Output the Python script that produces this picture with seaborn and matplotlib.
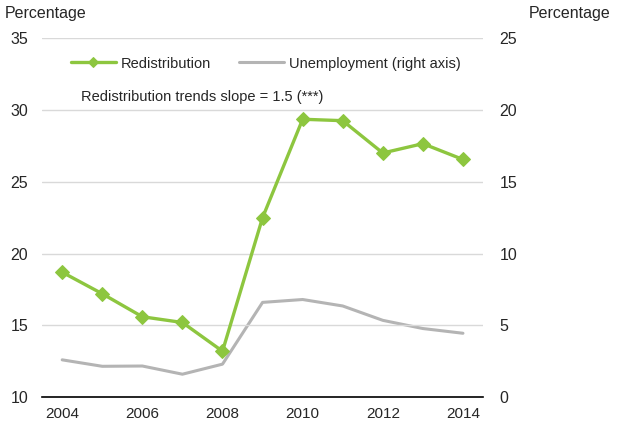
import numpy as np
import pandas as pd
import matplotlib
matplotlib.use("Agg")
import matplotlib.pyplot as plt
import seaborn as sns

years = [2004, 2005, 2006, 2007, 2008, 2009, 2010, 2011, 2012, 2013, 2014]
redistribution = [18.7, 17.2, 15.6, 15.2, 13.2, 22.5, 29.35, 29.25, 27.0, 27.65, 26.55]
unemployment = [2.6, 2.15, 2.17, 1.6, 2.3, 6.6, 6.8, 6.35, 5.35, 4.78, 4.45]
year_labels = ["2004", "", "2006", "", "2008", "", "2010", "", "2012", "", "2014"]

GREEN = "#8DC63F"
GREY = "#B4B4B4"

sns.set_style("white")
plt.rcParams['font.family'] = ['Liberation Sans Narrow', 'Liberation Sans', 'DejaVu Sans']
plt.rcParams['font.size'] = 11

df = pd.DataFrame({'pos': np.arange(len(years)), 'year': years,
                   'redistribution': redistribution, 'unemployment': unemployment})

fig = plt.figure(figsize=(6.2, 4.28), dpi=100)
ax = fig.add_axes([0.068, 0.072, 0.711, 0.839])
ax2 = ax.twinx()

sns.lineplot(data=df, x='pos', y='unemployment', ax=ax2, color=GREY, linewidth=2.2,
             label='Unemployment (right axis)', legend=False)
sns.lineplot(data=df, x='pos', y='redistribution', ax=ax, color=GREEN, linewidth=2.4,
             marker='D', markersize=7, markeredgecolor=GREEN, label='Redistribution', legend=False)

ax.set_zorder(ax2.get_zorder() + 1)
ax.patch.set_visible(False)

ax.set_ylim(10, 35)
ax2.set_ylim(0, 25)
ax.set_yticks([10, 15, 20, 25, 30, 35])
ax2.set_yticks([0, 5, 10, 15, 20, 25])
ax.set_xlim(-0.5, len(years) - 0.5)

ax.set_xticks(np.arange(-0.5, len(years)), minor=False)
ax.set_xticklabels([])
ax.set_xticks(np.arange(len(years)), minor=True)
ax.set_xticklabels(year_labels, minor=True)
ax.tick_params(axis='x', which='major', direction='in', length=4, width=1, color='black')
ax.tick_params(axis='x', which='minor', length=0, pad=7, labelsize=11)
ax.tick_params(axis='y', length=0, labelsize=11.5, pad=10)
ax2.tick_params(axis='y', length=0, labelsize=11.5, pad=12)

ax.set_xlabel('')
ax.set_ylabel('')
ax2.set_ylabel('')

ax.yaxis.grid(True, color='#D9D9D9', linewidth=1)
ax.set_axisbelow(True)
for a in (ax, ax2):
    for s in ('top', 'left', 'right'):
        a.spines[s].set_visible(False)
ax.spines['bottom'].set_color('black')
ax.spines['bottom'].set_linewidth(1.2)
ax2.spines['bottom'].set_visible(False)

h1, l1 = ax.get_legend_handles_labels()
h2, l2 = ax2.get_legend_handles_labels()
ax.legend(h1 + h2, l1 + l2, ncol=2, frameon=False, loc='upper left',
          bbox_to_anchor=(0.035, 0.985), fontsize=10.5, handlelength=3.1,
          columnspacing=1.9, handletextpad=0.35, markerscale=0.7)

ax.text(0.088, 0.835, 'Redistribution trends slope = 1.5 (***)', transform=ax.transAxes,
        fontsize=10.5, ha='left', va='center')

fig.text(0.008, 0.985, 'Percentage', fontsize=11.5, ha='left', va='top')
fig.text(0.985, 0.985, 'Percentage', fontsize=11.5, ha='right', va='top')

fig.savefig('out.png', dpi=100)
